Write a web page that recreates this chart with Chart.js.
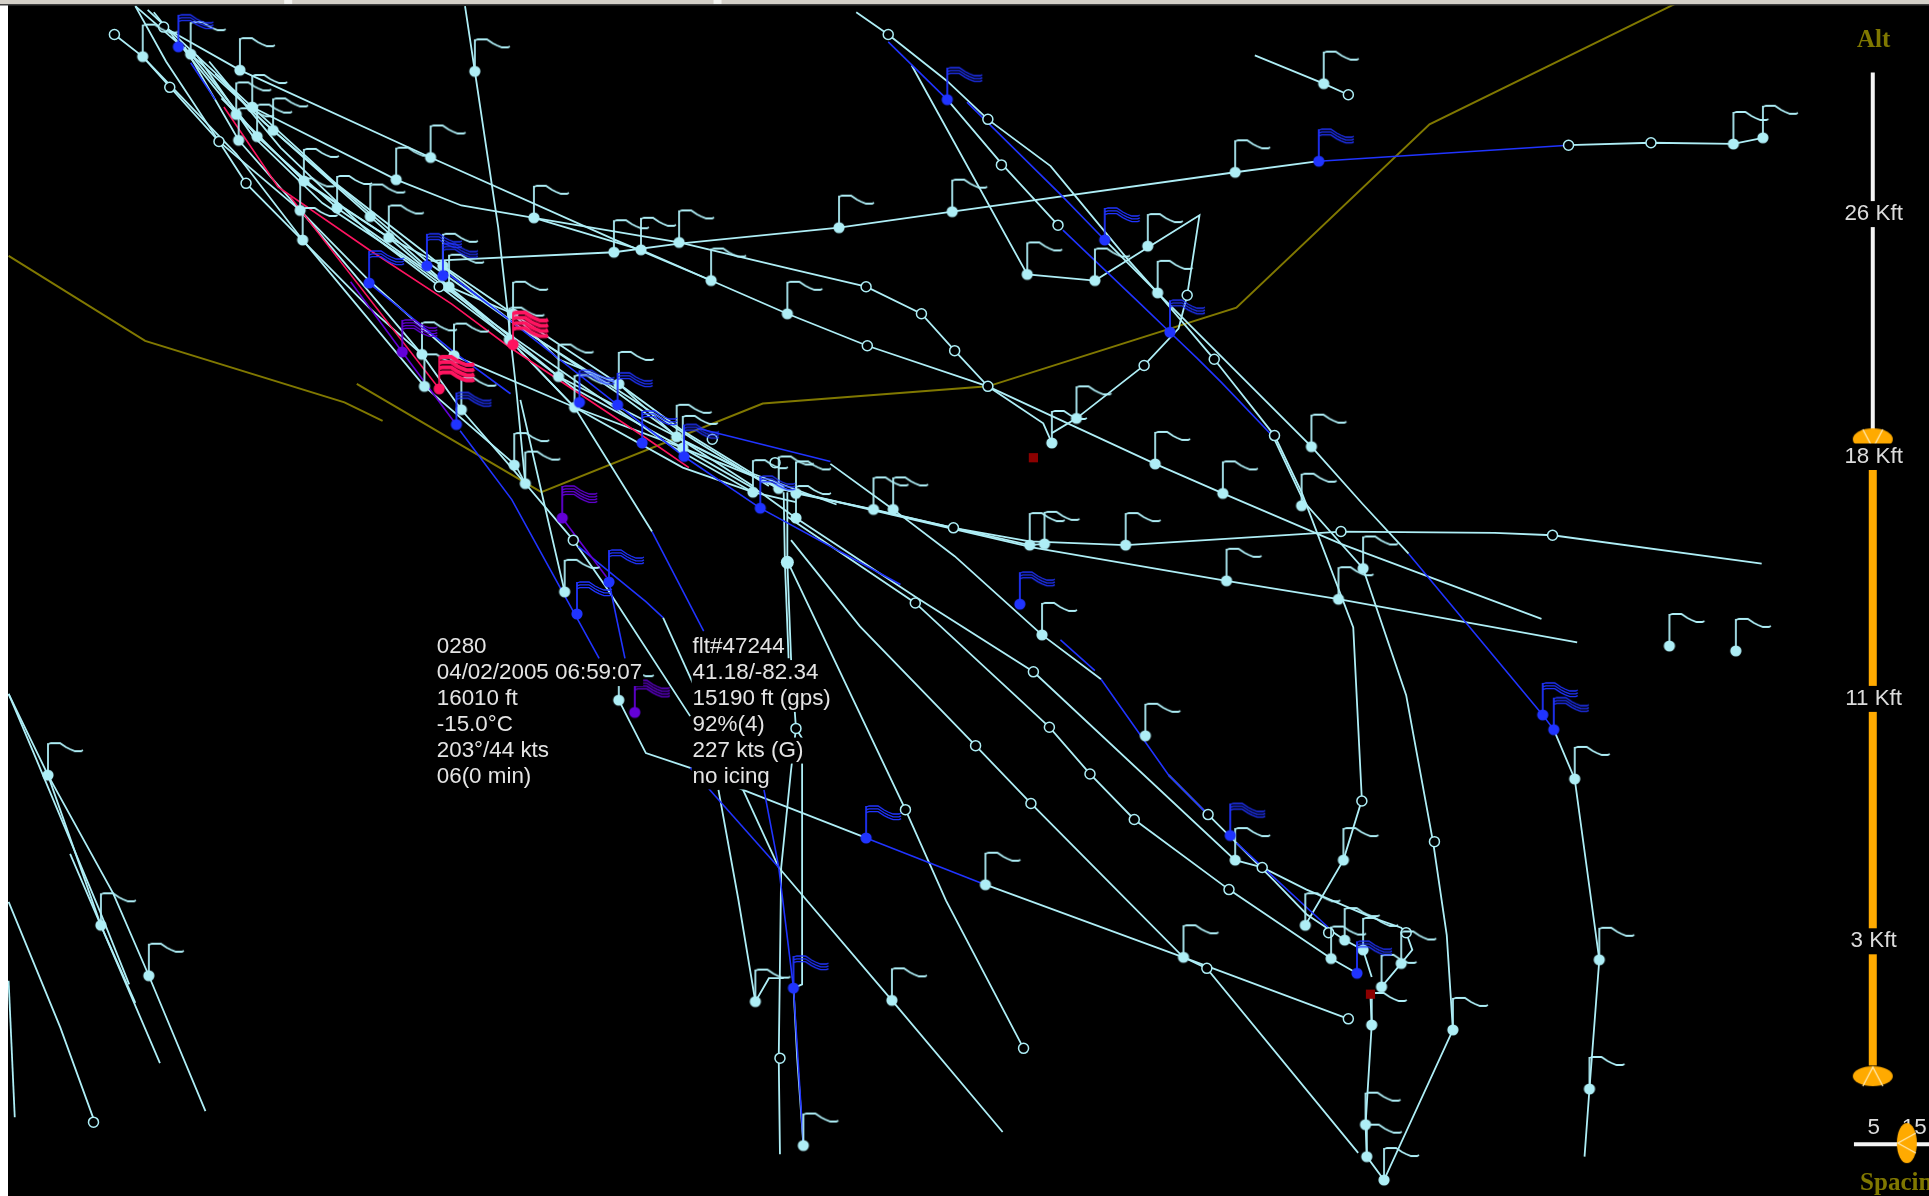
<!DOCTYPE html>
<html><head><meta charset="utf-8">
<style>html,body{margin:0;padding:0;background:#000;overflow:hidden}canvas{display:block}</style>
<script src="https://cdn.jsdelivr.net/npm/chart.js@4"></script>
</head><body><canvas id="c" width="1929" height="1196"></canvas>
<script>
// Track polylines as flat x,y lists (display grid 1568 x 972).
const oliveTracks = [
 [7,208,118,277,280,327,311,342],
 [290,312,440,400,620,328,803,314,1005,250,1162,101,1362,3]
];
const lightTracks = [
 [110,5,155,44,209,111,274,169,365,233,417,255,503,312,550,355,612,395],
 [93,28,116,46,192,125,246,195,345,314,419,378,427,393,466,439,494,479,561,582],
 [116,46,178,115,200,149,300,250,343,288,375,333,427,393],
 [110,5,135,50,178,115,244,171,343,288],
 [133,22,195,57,350,128,500,195,578,228,640,255,705,281,803,314,939,377,994,401,1090,442,1253,503],
 [205,87,322,146,375,167,434,177,552,197,640,218,704,233,749,255,776,285,803,314,848,344,855,360],
 [434,177,521,203,578,228],
 [350,212,499,205,552,198,682,185,774,172,1004,140,1072,131],
 [1275,118,1342,116,1409,117,1433,112],
 [378,5,386,58,405,185,420,320,427,393],
 [423,325,443,412,459,481],
 [125,10,192,93,247,147,316,193,360,216,417,255,454,292,503,312,555,350,612,385,680,410],
 [120,8,205,87,274,150,345,205,417,262,503,320,555,358,633,397,775,429,837,440,915,443,1090,432,1215,433,1262,435,1432,458],
 [140,30,222,106,301,176,365,233,454,306,550,355,633,397,840,445,997,472,1088,487,1282,522],
 [150,38,194,114,244,171,300,228,369,289],
 [170,50,228,120,301,190,380,250,467,316,555,364,647,401,710,414,775,429,837,443,849,442],
 [180,80,250,150,316,193,414,276,467,331,555,380,612,400],
 [160,45,205,110,262,165,330,210,400,262,480,318,545,362,612,400,647,408],
 [175,60,215,100,285,160,350,215,425,268,510,322,565,358,625,395],
 [369,289,467,331,555,364,618,400,647,421,744,485,840,546,1004,699,1026,705,1062,723,1116,746,1139,754,1143,758,1148,772,1139,783,1123,802],
 [640,420,744,490,853,591,886,629,922,666,999,723,1082,779,1103,791],
 [643,439,699,509,793,606,838,653,962,778,981,787,1104,937],
 [641,458,736,658,769,732,832,852],
 [414,276,467,331,530,432],
 [675,377,726,414,776,452,847,516,895,552],
 [950,630,982,662,1005,685,1035,715,1062,743,1093,764,1108,772,1115,794],
 [503,569,525,612,561,624,604,642,653,661,704,681],
 [801,719,962,778,1096,828],
 [633,705,725,813,815,920],
 [584,642,600,730,614,814,625,795,637,795],
 [604,642,633,705],
 [640,400,640,457,643,535,647,592,652,600,652,800,645,803],
 [637,400,638,457,641,535],
 [647,592,643,626,635,705,633,860,634,938],
 [653,930,648,860,645,803],
 [539,502,564,557],
 [696,10,722,28,770,66,803,97,854,135,873,158,916,210,941,238,987,292,1036,354,1058,400,1100,510,1107,650,1092,699,1061,752],
 [770,81,815,134,860,183],
 [1035,355,1060,408,1108,462,1143,565,1165,685,1176,760,1181,837,1125,959,1111,940,1110,914,1115,833,1114,810],
 [741,53,835,223,890,228,975,175,965,240,958,267,930,297,875,340,855,352],
 [898,195,941,238,1066,363,1108,410,1145,450],
 [1263,593,1280,633,1300,780,1292,885,1288,940],
 [1020,45,1076,68,1096,77],
 [7,564,39,630,82,752,130,864],
 [7,564,27,611,81,740,105,800],
 [57,694,82,752,110,815],
 [39,630,92,726,121,793,167,903],
 [7,733,49,835,77,912],
 [7,797,12,908]
];
const blueTracks = [
 [1072,131,1275,118],
 [722,34,770,81],
 [864,187,927,247,951,270,973,291,993,311,1035,355],
 [786,83,862,158,898,195],
 [1145,450,1254,581,1263,593],
 [155,51,175,81],
 [300,230,337,260,370,287,415,320],
 [357,217,414,260,502,329,556,371,618,413,732,475],
 [374,350,416,406,455,477,487,535],
 [530,432,572,513],
 [495,473,508,535],
 [470,444,525,489,539,502],
 [567,348,675,375],
 [704,681,801,719],
 [561,624,633,705],
 [621,642,633,705,645,803,653,930],
 [862,520,890,545],
 [895,552,950,630,982,662],
 [1005,685,1080,754]
];
const redTracks = [
 [182,87,226,152,300,203,367,247,414,282,528,358,560,380],
 [236,160,357,316]
];
const purpleTracks = [
 [285,229,327,286,370,344],
 [457,421,493,469]
];
const sliderWhite = [[1522.3,59,1522.3,349],[1507,930,1568,930]];
const sliderOrange = [[1522.3,382,1522.3,866]];
// Flagged reports and plain markers.
const lightFlags = [116,46,155,44,195,57,192,93,205,87,194,114,209,111,222,106,247,147,274,169,244,171,246,195,301,176,316,193,322,146,350,128,386,58,434,177,499,205,521,203,552,197,578,228,640,255,682,185,774,172,835,223,890,228,933,200,941,238,875,340,855,360,1004,140,1076,68,1409,117,1433,112,1066,363,939,377,994,401,1058,411,1108,462,1088,487,997,472,915,443,849,442,837,443,726,414,710,414,847,516,931,598,1004,699,1061,752,1082,779,1093,764,1108,772,1123,802,1139,783,1092,699,1115,833,1110,914,1111,940,1125,959,1181,837,1292,885,1300,780,1280,633,1357,525,1411,529,360,216,365,233,343,288,369,289,345,314,375,333,417,255,414,276,454,306,467,331,503,312,418,378,427,393,550,355,555,364,612,400,633,397,647,401,647,421,459,481,503,569,614,814,725,813,801,719,962,778,653,931,39,630,82,752,121,793];
const lightDots = [640,457];
const blueFlags = [145,38,300,230,347,216,360,224,371,345,471,327,502,329,522,360,556,371,618,413,495,473,469,499,770,81,898,195,951,270,1072,131,829,491,704,681,645,803,1000,679,1103,791,1254,581,1263,593];
const purpleFlags = [327,286,457,421,516,579];
const redFlags = [357,316,417,280];
const openMarks = [93,28,133,22,138,71,178,115,200,149,357,233,579,357,630,376,466,439,647,592,775,429,744,490,840,546,793,606,838,653,853,591,886,629,922,666,736,658,634,860,722,28,803,97,814,134,860,183,965,240,930,297,704,233,749,255,776,285,803,314,705,281,987,292,1036,354,1090,432,1262,435,1275,118,1342,116,1096,77,982,662,1026,705,999,723,1080,758,1143,758,981,787,1096,828,1166,684,1107,651,76,912,832,852];
const darkSquares = [840,372,1114,808];
const handleDown = [1522.3,357];
const handleUp = [1522.3,874.6];
const handleSide = [1550,929];
// Text.
const infoLeft = ["0280","04/02/2005 06:59:07","16010 ft","-15.0°C","203°/44 kts","06(0 min)"];
const infoRight = ["flt#47244","41.18/-82.34","15190 ft (gps)","92%(4)","227 kts (G)","no icing"];
const infoRowY = [526,547,568,589,610,631];
const altLabels = ["26 Kft","18 Kft","11 Kft","3 Kft"];
const altLabelY = [174,371,568,765];
const spacingLabels = ["5","15"];
const titleAlt = "Alt";
const titleSpacing = "Spacing";

const LIGHT='#aeeef6',BLUE='#2034ff',PURPLE='#6400d8',RED='#ff1460',OLIVE='#807800',ORANGE='#ffaa00',DARK='#8c0000';
function pairs(a){const o=[];for(let i=0;i<a.length;i+=2)o.push({x:a[i],y:a[i+1]});return o;}
function marker(w,h,draw){const c=document.createElement('canvas');c.width=w;c.height=h;const g=c.getContext('2d');g.translate(w/2,h/2);draw(g);return c;}
const wave=[[0,-31],[3,-32],[12,-32],[18,-28],[22,-26],[27,-24],[33,-24],[35,-25]];
function flag(color,lines,gap,lw){return marker(100,100,g=>{
  g.strokeStyle=color;g.fillStyle=color;g.lineWidth=1.8;
  g.beginPath();g.arc(0,0,5.6,0,Math.PI*2);g.fill();
  g.beginPath();g.moveTo(0,0);g.lineTo(0,-32);g.stroke();
  g.lineWidth=lw;
  for(let n=0;n<lines;n++){g.beginPath();wave.forEach((p,i)=>{i?g.lineTo(p[0],p[1]+n*gap):g.moveTo(p[0],p[1]+n*gap)});g.stroke();}
});}
const flagLight=flag(LIGHT,1,0,1.8),flagBlue=flag(BLUE,3,2.8,1.3),flagPurple=flag(PURPLE,4,2.8,1.3),flagRed=flag(RED,4,5.2,4);
function handle(w,h,draw){return marker(w+4,h+4,g=>{g.fillStyle=ORANGE;g.beginPath();g.ellipse(0,0,w/2,h/2,0,0,Math.PI*2);g.fill();g.strokeStyle='#ffe9b0';g.lineWidth=1.3;g.beginPath();draw(g);g.stroke();});}
const hDown=handle(40,22,g=>{g.moveTo(-10,-10);g.lineTo(0,9);g.lineTo(10,-10);});
const hUp=handle(40,20,g=>{g.moveTo(-10,10);g.lineTo(0,-9);g.lineTo(10,10);});
const hSide=handle(20,40,g=>{g.moveTo(9,-10);g.lineTo(-9,0);g.lineTo(9,10);});

const datasets=[];
function addLines(list,color,w){list.forEach(t=>datasets.push({type:'line',data:pairs(t),borderColor:color,borderWidth:w,pointRadius:0,tension:0,fill:false}));}
function addPts(a,style,r,bg,bd,bw){datasets.push({type:'scatter',data:pairs(a),pointStyle:style,pointRadius:r,pointBackgroundColor:bg,pointBorderColor:bd,pointBorderWidth:bw,showLine:false,clip:false});}
addLines(oliveTracks,OLIVE,2);
addLines(lightTracks,LIGHT,1.8);
addLines(blueTracks,BLUE,1.6);
addLines(purpleTracks,PURPLE,1.6);
addLines(redTracks,RED,1.6);
addPts(openMarks,'circle',5,'#000',LIGHT,1.5);
addPts(lightDots,'circle',6.5,LIGHT,LIGHT,0);
addPts(lightFlags,flagLight,5,LIGHT,LIGHT,0);
addPts(blueFlags,flagBlue,5,BLUE,BLUE,0);
addPts(purpleFlags,flagPurple,5,PURPLE,PURPLE,0);
addPts(redFlags,flagRed,5,RED,RED,0);
addPts(darkSquares,'rect',6.5,DARK,DARK,0);
addLines(sliderWhite,'#f4f4f4',4);
addLines(sliderOrange,ORANGE,8);
addPts(handleDown,hDown,5,ORANGE,ORANGE,0);
addPts(handleUp,hUp,5,ORANGE,ORANGE,0);
addPts(handleSide,hSide,5,ORANGE,ORANGE,0);
datasets.forEach((d,i)=>d.order=datasets.length-i);

const FONT='22.4px "Liberation Sans"';
const underlay={id:'underlay',beforeDatasetsDraw(chart){
  const g=chart.ctx,X=v=>chart.scales.x.getPixelForValue(v),Y=v=>chart.scales.y.getPixelForValue(v);
  g.save();g.textBaseline='middle';g.textAlign='center';g.fillStyle='#dcdcdc';g.font=FONT;
  g.fillText(spacingLabels[0],X(1523),Y(917));g.fillText(spacingLabels[1],X(1556),Y(917));
  g.restore();
}};
const overlay={id:'overlay',afterDraw(chart){
  const g=chart.ctx,X=v=>chart.scales.x.getPixelForValue(v),Y=v=>chart.scales.y.getPixelForValue(v);
  g.save();g.textBaseline='middle';g.textAlign='left';
  function row(t,x,y,font,col){g.font=font;const w=g.measureText(t).width;g.fillStyle='#000';g.fillRect(x-1,y-13,w+2,26);g.fillStyle=col;g.fillText(t,x,y);return w;}
  infoLeft.forEach((t,i)=>row(t,X(355),Y(infoRowY[i]),FONT,'#e4e4e4'));
  infoRight.forEach((t,i)=>row(t,X(563),Y(infoRowY[i]),FONT,'#e4e4e4'));
  altLabels.forEach((t,i)=>{g.font=FONT;const w=g.measureText(t).width;row(t,X(1523)-w/2,Y(altLabelY[i]),FONT,'#dcdcdc');});
  g.fillStyle=OLIVE;g.font='bold 25px "Liberation Serif"';g.textAlign='center';g.fillText(titleAlt,X(1523),Y(33));
  g.textAlign='left';g.fillText(titleSpacing,X(1512),Y(962));
  g.fillStyle='#fff';g.fillRect(0,0,8,chart.height);
  g.fillStyle='#d4d0c8';g.fillRect(0,0,chart.width,4);
  g.fillStyle='#404040';g.fillRect(0,4,chart.width,1.5);
  g.fillStyle='#f4f4f0';g.fillRect(X(231),0,8,4);g.fillRect(X(580),0,8,4);
  g.restore();
}};
new Chart(document.getElementById('c'),{
  data:{datasets},
  options:{responsive:false,animation:false,events:[],layout:{padding:0,autoPadding:false},
    plugins:{legend:{display:false},tooltip:{enabled:false}},
    scales:{x:{type:'linear',min:0,max:1568,display:false},y:{type:'linear',min:0,max:972,reverse:true,display:false}}},
  plugins:[{id:'bg',beforeDraw(c){c.ctx.fillStyle='#000';c.ctx.fillRect(0,0,c.width,c.height);}},underlay,overlay]
});
</script></body></html>
